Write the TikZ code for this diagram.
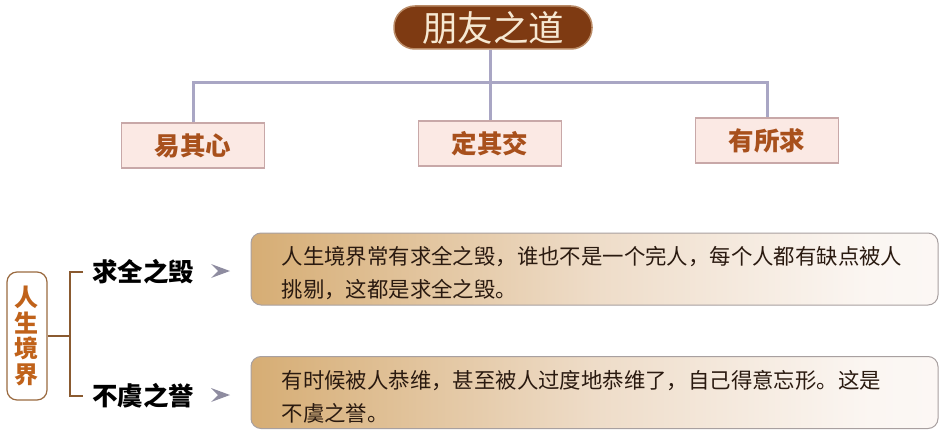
\documentclass[tikz,border=0pt]{standalone}
\usepackage{fontspec}
\setmainfont{Noto Sans CJK SC}
\usetikzlibrary{positioning}
\definecolor{pillbrown}{HTML}{7E3A12}
\definecolor{pilledge}{HTML}{B98A66}
\definecolor{pilltext}{HTML}{F6E8D2}
\definecolor{connline}{HTML}{A9A6C4}
\definecolor{boxfill}{HTML}{FBE9E4}
\definecolor{boxedge}{HTML}{C8A8A8}
\definecolor{boxtext}{HTML}{A8501C}
\definecolor{lifetext}{HTML}{C0621A}
\definecolor{lifeedge}{HTML}{9A6A40}
\definecolor{bracket}{HTML}{8A5A30}
\definecolor{arrowgray}{HTML}{8E8CA0}
\definecolor{paraedge}{HTML}{A8A0A0}
\definecolor{paratext}{HTML}{2A1A10}
\definecolor{tanA}{HTML}{C7975A}
\definecolor{tanB}{HTML}{D6AD74}
\definecolor{tanC}{HTML}{EEDCC8}
\definecolor{tanD}{HTML}{FBF6F2}
\pgfdeclarehorizontalshading{tanfade}{100bp}{color(0bp)=(tanA); color(25bp)=(tanB); color(50bp)=(tanC); color(70bp)=(tanD); color(100bp)=(white)}
\tikzset{
  pill/.style={rounded corners=21pt, fill=pillbrown, draw=pilledge, line width=1.5pt,
    minimum width=198pt, minimum height=43pt, inner sep=0pt, text=pilltext,
    font=\fontsize{35.5}{37}\selectfont},
  topbox/.style={rectangle, fill=boxfill, draw=boxedge, line width=1.2pt,
    minimum width=143pt, minimum height=45pt, inner sep=0pt, text=boxtext,
    font=\fontsize{25.5}{27}\selectfont\bfseries},
  conn/.style={draw=connline, line width=3pt},
  lifebox/.style={rectangle, rounded corners=10pt, draw=lifeedge, line width=1.2pt, fill=white,
    minimum width=40pt, minimum height=128pt, inner sep=0pt, text=lifetext, align=center,
    font=\fontsize{24}{25.7}\selectfont\bfseries},
  brack/.style={draw=bracket, line width=2pt},
  sublabel/.style={inner sep=0pt, text=black, font=\fontsize{25.5}{27}\selectfont\bfseries},
  arrowmark/.style={fill=arrowgray},
  parabox/.style={rectangle, rounded corners=10pt, shading=tanfade, draw=paraedge, line width=1pt,
    minimum width=687pt, minimum height=72pt, inner sep=0pt},
  paratextstyle/.style={inner sep=0pt, text width=640pt, align=left, text=paratext,
    font=\fontsize{21.4}{33}\selectfont}
}
\begin{document}
\begin{tikzpicture}[x=1pt,y=-1pt]
\useasboundingbox[fill=white] (0,0) rectangle (946,436);
% title and top boxes
\node[pill] (title) at (493,27.5) {朋友之道};
\node[topbox] (b1) at (193,145.5) {易其心};
\node[topbox] (b2) at (490,143.5) {定其交};
\node[topbox] (b3) at (767,140.5) {有所求};
\coordinate (hub) at (490,83);
\draw[conn] (title.south -| hub) -- (hub);
\draw[conn] (b1.north) -- (b1.north |- hub) -- (b3.north |- hub) -- (b3.north);
\draw[conn] (hub) -- (b2.north);
% life box and bracket
\node[lifebox] (life) at (27,336) {人\\生\\境\\界};
\node[sublabel, anchor=west] (l1) at (92,272) {求全之毁};
\node[sublabel, anchor=west] (l2) at (92,396) {不虞之誉};
\coordinate (bx) at (70,336);
\draw[brack] (life.east) -- (bx);
\draw[brack] ([xshift=-9pt]l1.west) -| (bx) |- ([xshift=-9pt]l2.west);
% arrows
\coordinate (a1) at (211,271);
\coordinate (a2) at (211,395);
\fill[arrowmark] (a1) ++(0,-7) -- ++(19,7) -- ++(-19,7) -- ++(7,-7) -- cycle;
\fill[arrowmark] (a2) ++(0,-7) -- ++(19,7) -- ++(-19,7) -- ++(7,-7) -- cycle;
% paragraph boxes
\node[parabox] (t1) at (594.5,269) {};
\node[parabox] (t2) at (594.5,392.5) {};
\node[paratextstyle, anchor=west] (t1txt) at ([xshift=31pt,yshift=-4.5pt]t1.west) {人生境界常有求全之毁，谁也不是一个完人，每个人都有缺点被人\\挑剔，这都是求全之毁。};
\node[paratextstyle, anchor=west] (t2txt) at ([xshift=31pt,yshift=-4pt]t2.west) {有时候被人恭维，甚至被人过度地恭维了，自己得意忘形。这是\\不虞之誉。};
\end{tikzpicture}
\end{document}
